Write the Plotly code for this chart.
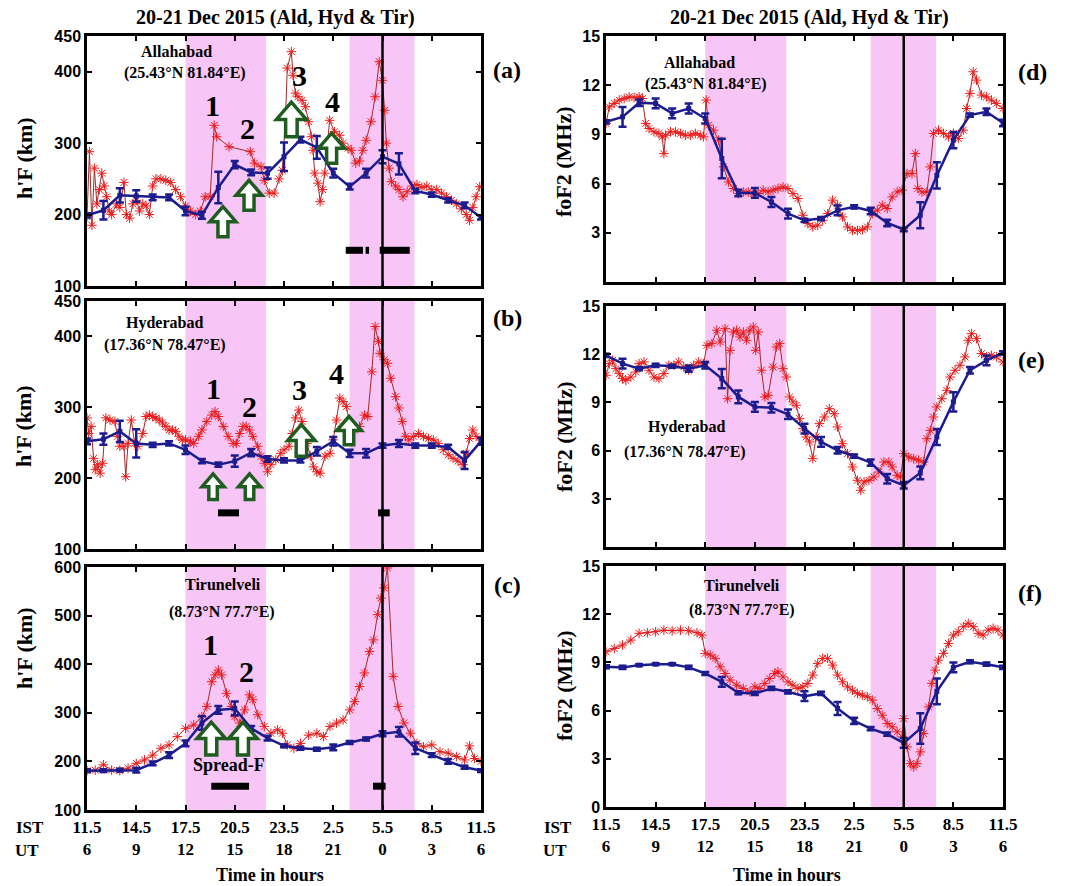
import plotly.graph_objects as go

W, H = 1074, 886

# ---------------- data ----------------
hours = [0, 1, 2, 3, 4, 5, 6, 7, 8, 9, 10, 11, 12, 13, 14, 15, 16, 17, 18, 19, 20, 21, 22, 23, 24]
tick_hours = [0, 3, 6, 9, 12, 15, 18, 21, 24]
ist_labels = ["11.5", "14.5", "17.5", "20.5", "23.5", "2.5", "5.5", "8.5", "11.5"]
ut_labels = ["6", "9", "12", "15", "18", "21", "0", "3", "6"]

# Allahabad h'F (km): disturbed day (time from 11.5 IST, value)
ald_hF_storm = [(0, 197), (0.15, 288), (0.3, 185), (0.45, 265), (0.6, 215), (0.75, 235), (0.9, 258), (1.05, 240),
                (1.2, 225), (1.35, 205), (1.5, 200), (1.8, 215), (2.0, 210), (2.25, 245), (2.4, 200), (2.6, 195),
                (2.8, 215), (3.0, 220), (3.2, 205), (3.4, 215), (3.6, 212), (3.8, 200), (4.0, 240), (4.2, 250),
                (4.5, 250), (4.8, 248), (5.1, 245), (5.4, 235), (5.7, 225), (6.0, 212), (6.3, 205), (6.6, 200),
                (6.9, 205), (7.2, 225), (7.5, 225), (7.75, 325), (7.9, 309), (8.65, 295), (9.95, 288), (10.2, 272),
                (10.6, 267), (10.8, 248), (11.1, 230), (11.4, 230), (11.7, 250), (11.9, 262), (12.1, 340), (12.2, 405),
                (12.45, 428), (12.55, 395), (12.7, 370), (12.85, 365), (13.1, 360), (13.3, 351), (13.5, 330),
                (13.67, 309), (13.77, 290), (13.87, 258), (14.07, 244), (14.2, 218), (14.35, 235), (14.48, 258),
                (14.78, 332), (15.08, 316), (15.39, 311), (15.6, 300), (15.9, 293), (16.1, 290), (16.37, 272),
                (16.6, 275), (16.8, 290), (17.0, 304), (17.3, 330), (17.55, 365), (17.8, 414), (17.99, 388),
                (18.13, 346), (18.23, 300), (18.4, 265), (18.54, 246), (18.8, 240), (19.0, 235), (19.25, 225),
                (19.5, 232), (19.8, 240), (20.1, 242), (20.4, 238), (20.7, 240), (21.0, 235), (21.3, 235), (21.6, 230),
                (21.9, 225), (22.2, 220), (22.5, 215), (22.8, 208), (23.1, 200), (23.3, 192), (23.5, 210), (23.7, 225),
                (23.92, 239)]
ald_hF_quiet = [199, 206, 227, 226, 224, 224, 205, 199, 238, 270, 259, 258, 281, 305, 294, 258, 239, 258, 281, 271,
                233, 228, 220, 213, 196]
ald_hF_err = [3, 13, 10, 8, 4, 4, 6, 5, 22, 5, 4, 8, 20, 4, 16, 6, 4, 6, 9, 15, 3, 3, 3, 4, 3]

# Hyderabad h'F (km)
hyd_hF_storm = [(0, 285), (0.1, 263), (0.25, 273), (0.4, 228), (0.5, 212), (0.65, 219), (0.8, 207), (0.95, 221),
                (1.15, 285), (1.4, 282), (1.7, 280), (1.85, 259), (2.0, 245), (2.25, 245), (2.36, 202), (2.5, 249),
                (2.7, 282), (2.9, 249), (3.1, 245), (3.4, 263), (3.6, 287), (3.8, 289), (4.0, 287), (4.2, 285),
                (4.4, 282), (4.6, 278), (4.8, 273), (5.0, 268), (5.2, 268), (5.4, 266), (5.6, 259), (5.8, 254),
                (6.0, 254), (6.3, 252), (6.5, 249), (6.8, 259), (7.0, 268), (7.3, 280), (7.6, 289), (7.8, 294),
                (8.0, 287), (8.3, 273), (8.6, 259), (8.9, 249), (9.1, 249), (9.3, 263), (9.5, 273), (9.7, 273),
                (9.9, 268), (10.1, 259), (10.4, 245), (10.6, 231), (10.8, 221), (11.0, 209), (11.2, 219), (11.5, 226),
                (11.8, 235), (12.0, 240), (12.3, 245), (12.5, 263), (12.7, 285), (12.9, 296), (13.1, 280), (13.4, 249),
                (13.6, 231), (13.8, 216), (14.0, 209), (14.2, 207), (14.5, 231), (14.8, 235), (15.0, 254), (15.2, 282),
                (15.4, 313), (15.6, 308), (15.8, 301), (16.0, 278), (16.3, 268), (16.6, 273), (16.9, 289), (17.1, 287),
                (17.35, 350), (17.55, 414), (17.75, 393), (17.85, 376), (18.1, 367), (18.3, 362), (18.5, 341),
                (18.8, 315), (19.0, 299), (19.2, 280), (19.4, 259), (19.6, 254), (19.9, 259), (20.2, 263), (20.5, 259),
                (20.8, 256), (21.1, 254), (21.4, 249), (21.7, 240), (22.0, 233), (22.3, 228), (22.6, 224), (22.9, 219),
                (23.1, 235), (23.3, 256), (23.5, 268), (23.7, 259), (24.0, 254)]
hyd_hF_quiet = [252, 255, 266, 249, 247, 249, 240, 224, 219, 224, 236, 227, 225, 225, 238, 252, 235, 235, 246, 249,
                246, 246, 244, 225, 252]
hyd_hF_err = [4, 8, 15, 20, 3, 3, 6, 3, 3, 8, 5, 4, 3, 3, 6, 6, 5, 6, 3, 5, 3, 3, 3, 12, 5]

# Tirunelveli h'F (km)
tir_hF_storm = [(0, 181), (0.5, 182), (1.0, 193), (1.5, 182), (2.0, 181), (2.5, 186), (3.0, 196), (3.5, 203),
                (4.0, 213), (4.5, 227), (5.0, 234), (5.5, 251), (6.0, 268), (6.5, 275), (7.0, 292), (7.3, 313),
                (7.6, 364), (7.8, 378), (8.0, 388), (8.2, 378), (8.5, 340), (8.8, 313), (9.0, 292), (9.3, 279),
                (9.6, 306), (9.9, 337), (10.1, 327), (10.4, 296), (10.8, 272), (11.2, 258), (11.6, 265), (11.9, 258),
                (12.2, 234), (12.6, 227), (13.0, 237), (13.5, 254), (14.0, 258), (14.4, 251), (14.8, 272), (15.2, 279),
                (15.6, 285), (16.0, 306), (16.3, 323), (16.6, 354), (16.9, 382), (17.2, 426), (17.45, 450),
                (17.7, 502), (17.9, 536), (18.1, 557), (18.3, 598), (18.65, 375), (18.95, 313), (19.3, 279),
                (19.7, 258), (20.1, 237), (20.5, 230), (21.0, 234), (21.5, 220), (22.0, 217), (22.5, 210), (23.0, 203),
                (23.3, 232), (23.6, 206), (24.0, 200)]
tir_hF_quiet = [181, 181, 182, 182, 196, 213, 237, 279, 306, 309, 268, 248, 232, 227, 225, 229, 239, 246, 257, 261,
                227, 213, 200, 188, 181]
tir_hF_err = [3, 3, 3, 5, 4, 6, 6, 14, 8, 14, 5, 5, 3, 3, 3, 6, 3, 3, 5, 10, 12, 4, 5, 3, 3]

# Allahabad foF2 (MHz)
ald_foF2_storm = [(0, 9.67), (0.2, 10.68), (0.5, 10.89), (0.8, 11.09), (1.1, 11.19), (1.4, 11.29), (1.7, 11.25),
                  (2.0, 11.29), (2.2, 11.19), (2.4, 9.67), (2.6, 9.36), (2.9, 9.16), (3.2, 9.06), (3.4, 8.85),
                  (3.5, 7.83), (3.6, 8.95), (3.9, 9.16), (4.2, 9.16), (4.5, 9.06), (4.8, 8.95), (5.1, 8.95),
                  (5.4, 9.06), (5.7, 8.95), (5.9, 8.85), (6.05, 11.09), (6.2, 9.56), (6.5, 9.26), (6.8, 8.65),
                  (7.1, 7.02), (7.4, 6.1), (7.7, 5.7), (8.0, 5.39), (8.3, 5.49), (8.6, 5.49), (8.9, 5.39), (9.2, 5.39),
                  (9.5, 5.6), (9.8, 5.49), (10.1, 5.6), (10.4, 5.7), (10.7, 5.8), (11.0, 5.7), (11.3, 5.39),
                  (11.6, 5.09), (11.9, 4.07), (12.2, 3.56), (12.5, 3.36), (12.8, 3.46), (13.1, 3.76), (13.4, 4.17),
                  (13.7, 4.99), (14.0, 4.68), (14.3, 3.97), (14.6, 3.36), (14.9, 3.15), (15.2, 3.15), (15.5, 3.19),
                  (15.8, 3.36), (16.1, 4.17), (16.4, 4.38), (16.7, 4.68), (17.0, 4.48), (17.3, 5.19), (17.6, 5.49),
                  (17.9, 5.6), (18.2, 6.61), (18.5, 6.61), (18.7, 7.83), (18.85, 5.7), (19.1, 5.49), (19.4, 5.49),
                  (19.6, 7.02), (19.8, 9.06), (20.1, 9.26), (20.4, 9.06), (20.7, 8.85), (21.0, 9.06), (21.3, 8.75),
                  (21.6, 9.26), (21.8, 10.58), (22.0, 11.5), (22.2, 12.82), (22.4, 12.31), (22.7, 11.4), (23.0, 11.29),
                  (23.3, 11.09), (23.6, 10.89), (24.0, 10.58)]
ald_foF2_quiet = [9.77, 10.07, 10.93, 10.89, 10.28, 10.58, 9.97, 7.53, 5.43, 5.43, 4.88, 4.17, 3.76, 3.87, 4.37, 4.58,
                  4.33, 3.6, 3.2, 4.07, 6.5, 8.65, 10.18, 10.38, 9.7]
ald_foF2_err = [0.1, 0.6, 0.2, 0.3, 0.3, 0.3, 0.3, 1.2, 0.2, 0.3, 0.3, 0.3, 0.1, 0.1, 0.3, 0.1, 0.2, 0.2, 0.1, 0.8,
                0.8, 0.5, 0.1, 0.2, 0.2]

# Hyderabad foF2 (MHz)
hyd_foF2_storm = [(0, 10.69), (0.2, 11.41), (0.4, 11.62), (0.6, 11.1), (0.8, 10.79), (1.0, 10.48), (1.2, 10.37),
                  (1.5, 10.58), (1.8, 10.89), (2.0, 11.41), (2.3, 11.52), (2.6, 11.0), (2.9, 10.58), (3.2, 10.48),
                  (3.5, 10.79), (3.8, 11.31), (4.1, 11.31), (4.4, 11.52), (4.7, 11.2), (5.0, 11.0), (5.3, 11.31),
                  (5.6, 11.52), (5.9, 11.41), (6.1, 12.55), (6.4, 12.66), (6.7, 13.49), (6.9, 12.76), (7.2, 13.59),
                  (7.35, 9.23), (7.5, 12.24), (7.7, 13.38), (7.9, 13.49), (8.1, 13.07), (8.3, 13.38), (8.5, 12.87),
                  (8.7, 13.49), (8.9, 13.7), (9.05, 12.24), (9.2, 13.38), (9.4, 11.0), (9.6, 9.34), (9.8, 9.44),
                  (10.1, 11.2), (10.3, 12.45), (10.5, 12.66), (10.7, 11.1), (10.9, 10.58), (11.1, 9.34), (11.3, 9.03),
                  (11.5, 8.82), (11.7, 7.99), (11.9, 7.37), (12.1, 6.85), (12.3, 6.54), (12.5, 5.5), (12.7, 6.85),
                  (12.9, 7.68), (13.2, 8.09), (13.5, 8.61), (13.8, 8.3), (14.0, 7.47), (14.3, 6.43), (14.6, 5.81),
                  (14.9, 4.98), (15.2, 4.15), (15.4, 3.53), (15.6, 4.05), (15.9, 4.15), (16.2, 4.36), (16.5, 4.67),
                  (16.8, 5.29), (17.1, 5.29), (17.3, 4.98), (17.6, 4.46), (17.8, 4.36), (18.0, 5.81), (18.3, 5.6),
                  (18.6, 5.5), (18.9, 5.4), (19.2, 5.29), (19.4, 6.74), (19.6, 7.26), (19.8, 8.09), (20.0, 8.72),
                  (20.3, 9.23), (20.6, 9.75), (20.8, 10.58), (21.1, 11.0), (21.4, 11.31), (21.7, 11.83), (21.9, 12.87),
                  (22.1, 13.28), (22.4, 12.97), (22.7, 12.04), (23.0, 11.83), (23.3, 11.93), (23.6, 11.83),
                  (24.0, 11.52)]
hyd_foF2_quiet = [11.93, 11.41, 11.1, 11.31, 11.25, 11.1, 11.31, 10.48, 9.34, 8.72, 8.67, 8.26, 7.37, 6.54, 6.02,
                  5.66, 5.25, 4.25, 3.84, 4.61, 6.85, 9.03, 11.0, 11.62, 12.08]
hyd_foF2_err = [0.1, 0.3, 0.1, 0.1, 0.1, 0.2, 0.2, 0.6, 0.4, 0.3, 0.3, 0.3, 0.3, 0.3, 0.2, 0.1, 0.2, 0.3, 0.2, 0.4,
                0.5, 0.6, 0.2, 0.3, 0.1]

# Tirunelveli foF2 (MHz)
tir_foF2_storm = [(0, 9.66), (0.5, 9.87), (1.0, 10.08), (1.5, 10.39), (2.0, 10.81), (2.5, 10.85), (3.0, 10.91),
                  (3.5, 11.01), (4.0, 10.97), (4.5, 11.01), (5.0, 10.97), (5.5, 10.85), (5.8, 10.7), (6.0, 9.56),
                  (6.3, 9.46), (6.6, 9.25), (6.9, 8.73), (7.2, 8.31), (7.5, 7.9), (7.9, 7.58), (8.3, 7.38),
                  (8.7, 7.17), (9.0, 7.48), (9.3, 7.38), (9.6, 7.69), (9.9, 8.0), (10.2, 8.31), (10.4, 8.42),
                  (10.7, 8.1), (11.0, 7.79), (11.3, 7.58), (11.6, 7.38), (11.9, 7.48), (12.2, 7.69), (12.5, 8.21),
                  (12.8, 8.94), (13.1, 9.25), (13.4, 9.25), (13.7, 8.83), (14.0, 8.21), (14.3, 7.79), (14.6, 7.48),
                  (14.9, 7.27), (15.2, 7.07), (15.5, 6.96), (15.8, 6.86), (16.1, 6.65), (16.4, 6.13), (16.7, 5.71),
                  (17.0, 5.2), (17.3, 4.99), (17.6, 4.68), (17.9, 4.36), (18.0, 5.5), (18.2, 3.74), (18.4, 2.7),
                  (18.6, 2.49), (18.8, 2.7), (19.0, 3.43), (19.2, 4.57), (19.5, 6.23), (19.7, 7.69), (19.9, 8.52),
                  (20.1, 9.14), (20.4, 9.56), (20.7, 10.18), (21.0, 10.7), (21.3, 10.91), (21.6, 11.22), (21.9, 11.43),
                  (22.2, 11.22), (22.5, 10.81), (22.8, 10.7), (23.1, 11.01), (23.4, 11.12), (23.7, 11.01),
                  (24.0, 10.7)]
tir_foF2_quiet = [8.73, 8.69, 8.83, 8.89, 8.89, 8.69, 8.31, 7.79, 7.11, 7.07, 7.38, 7.17, 6.9, 7.07, 6.13, 5.36,
                  4.88, 4.53, 3.99, 4.88, 7.2, 8.69, 9.04, 8.89, 8.69]
tir_foF2_err = [0.1, 0.1, 0.05, 0.05, 0.05, 0.1, 0.1, 0.3, 0.1, 0.1, 0.1, 0.1, 0.3, 0.1, 0.4, 0.2, 0.1, 0.1, 0.3,
                0.95, 0.8, 0.3, 0.1, 0.1, 0.1]

# Shaded periods (hours from 11.5 IST) and spread-F intervals
shade_periods = [(6.0, 10.9), (16.0, 19.95)]
sunrise_line = 18.0
ald_spreadF = [(15.76, 16.81), (16.97, 17.18), (17.83, 19.66)]
hyd_spreadF = [(7.98, 9.26), (17.73, 18.44)]
tir_spreadF = [(7.57, 9.87), (17.42, 18.19)]
spreadF_level = {"a": 150, "b": 151, "c": 149}

# arrows: (t, base value, scale) ; event labels: (text, t, value)
ald_arrows = [(8.28, 169, 1.0), (9.87, 206, 1.0), (12.45, 309, 1.15), (14.9, 272, 1.0)]
hyd_arrows = [(7.68, 170, 0.85), (9.9, 170, 0.85), (13.06, 231, 1.05), (15.96, 247, 0.95)]
tir_arrows = [(7.57, 213, 1.1), (9.5, 213, 1.1)]
ald_events = [("1", 7.67, 353), ("2", 9.75, 321), ("3", 12.95, 395), ("4", 14.98, 358)]
hyd_events = [("1", 7.68, 327), ("2", 9.9, 301), ("3", 12.97, 325), ("4", 15.2, 348)]
tir_events = [("1", 7.5, 440), ("2", 9.7, 385)]

# ---------------- styling ----------------
SERIF = "Liberation Serif"
SANS = "Liberation Sans"
RED = "#f01818"
RED_LINE = "#a52a2a"
BLUE = "#1c1c8f"
PINK = "#f8c6f6"
GREEN = "#1f5c1f"


def px_x(p):
    return p / W


def px_y(p):
    return 1 - p / H


def paper_text(txt, x, y, size, angle=0):
    return dict(text=txt, x=px_x(x), y=px_y(y), xref="paper", yref="paper", showarrow=False,
                xanchor="center", yanchor="middle", textangle=angle,
                font=dict(family=SERIF, size=size, color="black", weight="bold"))


panels = [
    dict(k="a", ax="", dom_x=(87, 481), dom_y=(36, 286), yr=[100, 450], yt=[100, 200, 300, 400, 450],
         storm=ald_hF_storm, quiet=ald_hF_quiet, err=ald_hF_err, bottom=False,
         st=("Allahabad", "(25.43°N 81.84°E)", 5.48, 428, 5.97, 398), lab=(507, 70),
         spread=ald_spreadF, arrows=ald_arrows, events=ald_events, ytitle=("h'F (km)", 24, 158)),
    dict(k="b", ax="2", dom_x=(87, 481), dom_y=(301, 549), yr=[100, 450], yt=[100, 200, 300, 400, 450],
         storm=hyd_hF_storm, quiet=hyd_hF_quiet, err=hyd_hF_err, bottom=False,
         st=("Hyderabad", "(17.36°N 78.47°E)", 4.75, 419, 4.75, 388), lab=(507, 318),
         spread=hyd_spreadF, arrows=hyd_arrows, events=hyd_events, ytitle=("h'F (km)", 24, 426)),
    dict(k="c", ax="3", dom_x=(87, 481), dom_y=(567, 810), yr=[100, 600], yt=[100, 200, 300, 400, 500, 600],
         storm=tir_hF_storm, quiet=tir_hF_quiet, err=tir_hF_err, bottom=True,
         st=("Tirunelveli", "(8.73°N 77.7°E)", 8.28, 563, 8.22, 507), lab=(507, 585),
         spread=tir_spreadF, arrows=tir_arrows, events=tir_events, ytitle=("h'F (km)", 24, 648)),
    dict(k="d", ax="4", dom_x=(606, 1003), dom_y=(36, 282), yr=[0, 15], yt=[3, 6, 9, 12, 15],
         storm=ald_foF2_storm, quiet=ald_foF2_quiet, err=ald_foF2_err, bottom=False,
         st=("Allahabad", "(25.43°N 81.84°E)", 5.68, 13.4, 6.05, 12.1), lab=(1032, 72),
         spread=[], arrows=[], events=[], ytitle=("foF2 (MHz)", 564, 162)),
    dict(k="e", ax="5", dom_x=(606, 1003), dom_y=(306, 547), yr=[0, 15], yt=[3, 6, 9, 12, 15],
         storm=hyd_foF2_storm, quiet=hyd_foF2_quiet, err=hyd_foF2_err, bottom=False,
         st=("Hyderabad", "(17.36°N 78.47°E)", 4.84, 7.47, 4.8, 5.9), lab=(1031, 360),
         spread=[], arrows=[], events=[], ytitle=("foF2 (MHz)", 564, 437)),
    dict(k="f", ax="6", dom_x=(606, 1003), dom_y=(566, 807), yr=[0, 15], yt=[0, 3, 6, 9, 12, 15],
         storm=tir_foF2_storm, quiet=tir_foF2_quiet, err=tir_foF2_err, bottom=True,
         st=("Tirunelveli", "(8.73°N 77.7°E)", 8.2, 13.8, 8.2, 12.26), lab=(1030, 593),
         spread=[], arrows=[], events=[], ytitle=("foF2 (MHz)", 564, 686)),
]

fig = go.Figure()
layout = dict(width=W, height=H, margin=dict(l=0, r=0, t=0, b=0, autoexpand=False), paper_bgcolor="white",
              plot_bgcolor="white", showlegend=False)
shapes = []
annotations = []

for p in panels:
    xa = "x" + p["ax"]
    ya = "y" + p["ax"]
    ts = [v[0] for v in p["storm"]]
    vs = [v[1] for v in p["storm"]]
    fig.add_trace(go.Scatter(x=ts, y=vs, xaxis=xa, yaxis=ya, mode="lines+markers",
                             line=dict(color=RED_LINE, width=1),
                             marker=dict(symbol="asterisk-open", size=8, color=RED,
                                         line=dict(color=RED, width=1))))
    fig.add_trace(go.Scatter(x=hours, y=p["quiet"], xaxis=xa, yaxis=ya, mode="lines+markers",
                             line=dict(color=BLUE, width=2.5),
                             marker=dict(symbol="square", size=5, color=BLUE),
                             error_y=dict(type="data", array=p["err"], color=BLUE, thickness=2.5, width=4)))

    xkey = "xaxis" + p["ax"]
    ykey = "yaxis" + p["ax"]
    xaxis = dict(domain=[px_x(p["dom_x"][0]), px_x(p["dom_x"][1])], anchor=ya, range=[0, 24],
                 tickvals=tick_hours, ticks="inside", ticklen=5, tickwidth=2, tickcolor="black",
                 showline=True, linewidth=2.5, linecolor="black", mirror="ticks", automargin=False,
                 showgrid=False, zeroline=False, showticklabels=p["bottom"])
    if p["bottom"]:
        xaxis["ticktext"] = [a + "<br>" + b for a, b in zip(ist_labels, ut_labels)]
        xaxis["tickfont"] = dict(family=SERIF, size=17, color="black", weight="bold")
    layout[xkey] = xaxis
    layout[ykey] = dict(domain=[px_y(p["dom_y"][1]), px_y(p["dom_y"][0])], anchor=xa, range=p["yr"],
                        tickvals=p["yt"], ticks="inside", ticklen=5, tickwidth=2, tickcolor="black",
                        showline=True, linewidth=2.5, linecolor="black", mirror="ticks", automargin=False,
                        showgrid=False, zeroline=False,
                        tickfont=dict(family=SANS, size=16, color="black", weight="bold"))

    for (s0, s1) in shade_periods:
        shapes.append(dict(type="rect", xref=xa, yref=ya + " domain", x0=s0, x1=s1, y0=0, y1=1,
                           fillcolor=PINK, line=dict(width=0), layer="below"))
    shapes.append(dict(type="line", xref=xa, yref=ya + " domain", x0=sunrise_line, x1=sunrise_line,
                       y0=0, y1=1, line=dict(color="black", width=2.5), layer="above"))
    for (s0, s1) in p["spread"]:
        lvl = spreadF_level[p["k"]]
        shapes.append(dict(type="line", xref=xa, yref=ya, x0=s0, x1=s1, y0=lvl, y1=lvl,
                           line=dict(color="black", width=7), layer="above"))
    for (t, base, sc) in p["arrows"]:
        hw, sw, hh, tot = 13 * sc, 5 * sc, 15 * sc, 30 * sc
        path = (f"M {-sw} 0 L {sw} 0 L {sw} {hh} L {hw} {hh} L 0 {tot} "
                f"L {-hw} {hh} L {-sw} {hh} Z")
        shapes.append(dict(type="path", xref=xa, yref=ya, xsizemode="pixel", ysizemode="pixel",
                           xanchor=t, yanchor=base, path=path, fillcolor="white",
                           line=dict(color=GREEN, width=3.5), layer="above"))
    for (txt, t, v) in p["events"]:
        annotations.append(dict(text=txt, x=t, y=v, xref=xa, yref=ya, showarrow=False,
                                xanchor="center", yanchor="middle",
                                font=dict(family=SERIF, size=30, color="black", weight="bold")))
    name, coords, x1, y1, x2, y2 = p["st"]
    annotations.append(dict(text=name, x=x1, y=y1, xref=xa, yref=ya, showarrow=False,
                            xanchor="center", yanchor="middle",
                            font=dict(family=SERIF, size=16, color="black", weight="bold")))
    annotations.append(dict(text=coords, x=x2, y=y2, xref=xa, yref=ya, showarrow=False,
                            xanchor="center", yanchor="middle",
                            font=dict(family=SERIF, size=16, color="black", weight="bold")))
    annotations.append(paper_text("(" + p["k"] + ")", p["lab"][0], p["lab"][1], 24))
    yt_txt, yx, yy = p["ytitle"]
    annotations.append(paper_text(yt_txt, yx, yy, 22, angle=-90))

title_txt = "20-21 Dec 2015 (Ald, Hyd &amp; Tir)"
for cx in (275, 809):
    annotations.append(paper_text(title_txt, cx, 17, 20))
for cx in (270, 787):
    annotations.append(paper_text("Time in hours", cx, 875, 18))
annotations.append(paper_text("Spread-F", 229, 765, 18))
for cx in (30, 558):
    annotations.append(paper_text("IST", cx, 827, 17))
    annotations.append(paper_text("UT", cx - 3, 850, 17))

layout["shapes"] = shapes
layout["annotations"] = annotations
fig.update_layout(**layout)
fig.write_html("out.html", config={"displayModeBar": False},
               post_script="document.body.style.margin='0px';")
